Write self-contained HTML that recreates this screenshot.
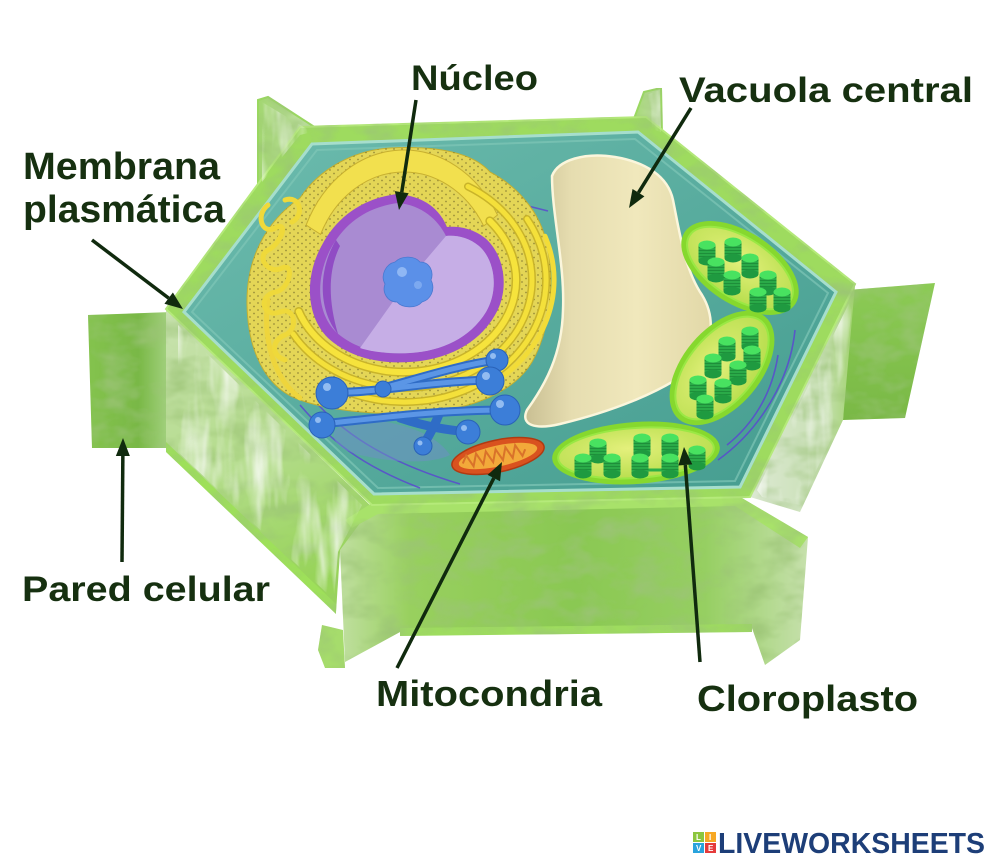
<!DOCTYPE html>
<html><head><meta charset="utf-8">
<style>
html,body{margin:0;padding:0;background:#fff;}
svg{display:block;}
text{font-family:"Liberation Sans",Arial,sans-serif;font-weight:bold;}
</style></head><body>
<svg width="1000" height="868" viewBox="0 0 1000 868" xmlns="http://www.w3.org/2000/svg">
<defs>
<linearGradient id="gTeal" x1="0" y1="0" x2="1" y2="1"><stop offset="0" stop-color="#6dbcae"/><stop offset="1" stop-color="#449c8f"/></linearGradient>
<linearGradient id="gLL" x1="0" y1="0" x2="0.3" y2="1"><stop offset="0" stop-color="#c9e2b0"/><stop offset="0.55" stop-color="#b4dc8c"/><stop offset="1" stop-color="#98d45a"/></linearGradient>
<linearGradient id="gFront" x1="0" y1="0" x2="1" y2="0"><stop offset="0" stop-color="#c0dfa0"/><stop offset="0.15" stop-color="#98d05e"/><stop offset="0.5" stop-color="#8ac852"/><stop offset="0.78" stop-color="#96cf62"/><stop offset="1" stop-color="#c6e0ac"/></linearGradient>
<linearGradient id="gFlL" x1="0" y1="0" x2="1" y2="0"><stop offset="0" stop-color="#84c34e"/><stop offset="0.6" stop-color="#79b846"/><stop offset="1" stop-color="#a8d486"/></linearGradient>
<linearGradient id="gFlR" x1="0" y1="0" x2="0" y2="1"><stop offset="0" stop-color="#8ccb55"/><stop offset="1" stop-color="#79b845"/></linearGradient>
<linearGradient id="gRF" x1="0" y1="0" x2="1" y2="0"><stop offset="0" stop-color="#dce8d2"/><stop offset="0.7" stop-color="#c8e0b4"/><stop offset="1" stop-color="#a0d26c"/></linearGradient>
<linearGradient id="gTop" x1="0" y1="0" x2="1" y2="0"><stop offset="0" stop-color="#a2d670"/><stop offset="1" stop-color="#c6e2ae"/></linearGradient>
<linearGradient id="gVac" x1="0" y1="0" x2="1" y2="0"><stop offset="0" stop-color="#c9bf93"/><stop offset="0.25" stop-color="#e6ddb0"/><stop offset="0.6" stop-color="#f0e8bc"/><stop offset="1" stop-color="#e2d8a8"/></linearGradient>
<radialGradient id="gChl" cx="0.45" cy="0.4" r="0.7"><stop offset="0" stop-color="#e4f07c"/><stop offset="1" stop-color="#b2dc48"/></radialGradient>
<pattern id="dots" width="8" height="7" patternUnits="userSpaceOnUse"><circle cx="2" cy="2" r="0.9" fill="#2a2410"/><circle cx="6" cy="5.5" r="0.9" fill="#2a2410"/></pattern>
<pattern id="stripes" width="4" height="3" patternUnits="userSpaceOnUse"><rect width="4" height="3" fill="#2aaa48"/><rect y="2" width="4" height="1" fill="#1e8e3a"/></pattern>
<g id="gr"><rect x="-8.5" y="0" width="17" height="16" fill="url(#stripes)"/><ellipse cy="16" rx="8.5" ry="4.5" fill="#1f9a40"/><ellipse rx="8.5" ry="4.5" fill="#48e260"/></g>
<filter id="tex" x="0" y="0" width="1" height="1">
 <feTurbulence type="fractalNoise" baseFrequency="0.03 0.05" numOctaves="3" seed="4" result="n"/>
 <feColorMatrix in="n" type="matrix" values="0 0 0 0 0.33  0 0 0 0 0.55  0 0 0 0 0.18  1.8 0 0 0 -0.75" result="m"/>
 <feComposite in="m" in2="SourceAlpha" operator="in" result="mc"/>
 <feMerge><feMergeNode in="SourceGraphic"/><feMergeNode in="mc"/></feMerge>
</filter>
<filter id="streak" x="0" y="0" width="1" height="1">
 <feTurbulence type="fractalNoise" baseFrequency="0.06 0.012" numOctaves="3" seed="7" result="n"/>
 <feColorMatrix in="n" type="matrix" values="0 0 0 0 0.95  0 0 0 0 0.97  0 0 0 0 0.93  2.0 0 0 0 -0.9" result="m"/>
 <feComposite in="m" in2="SourceAlpha" operator="in"/>
</filter>
</defs>
<rect width="1000" height="868" fill="#fff"/>

<g filter="url(#tex)">
<polygon points="258,100 268,97 316,128 300,128 258,186" fill="url(#gTop)" stroke="#9ad860" stroke-width="2"/>
<polygon points="632,124 644,92 661,88 662,134" fill="url(#gTop)" stroke="#9ad860" stroke-width="2"/>
<polygon points="88,315 172,312 168,448 92,448" fill="url(#gFlL)"/>
<polygon points="166,309 372,507 340,552 336,612 166,448" fill="url(#gLL)"/>
<polygon points="166,442 336,604 336,614 166,452" fill="#9ee05a"/>
<polygon points="322,625 343,630 345,668 325,668 318,650" fill="#a6dc6c"/>
<polygon points="848,290 935,283 905,418 843,420" fill="url(#gFlR)"/>
<polygon points="855,285 843,420 800,512 760,500 750,497" fill="url(#gRF)"/>
<polygon points="340,550 372,507 735,494 808,537 800,640 765,665 752,628 400,632 345,662" fill="url(#gFront)"/>
<polygon points="345,520 372,503 735,494 808,537 800,548 735,506 378,514 352,528" fill="#a8e26a"/>
<polygon points="400,628 752,624 752,632 400,636" fill="#9edc5e"/>
<polygon points="300,127 646,117 855,284 750,497 372,505 166,309" fill="#9edb5e" stroke="#b5ea7a" stroke-width="2"/>
</g>

<!-- white streaks -->
<g filter="url(#streak)" fill="#000">
<polygon points="178,325 362,505 338,552 334,600 178,452"/>
<polygon points="853,295 841,418 800,505 762,497 757,490"/>
<polygon points="262,102 312,132 300,135 262,182"/>
<polygon points="646,95 660,90 661,132 648,128"/>
</g>

<!-- teal cytoplasm -->
<polygon points="312,144 638,132 836,292 740,487 374,494 184,312" fill="url(#gTeal)" stroke="#a6decc" stroke-width="3"/>
<polygon points="317,150 635,139 828,293 735,481 378,488 192,312" fill="none" stroke="#7fc6b6" stroke-width="2" opacity="0.7"/>

<g fill="none" stroke="#5a4ad0" stroke-width="1.6" opacity="0.85">
<path d="M300,405 C330,440 360,465 420,488"/>
<path d="M312,398 C340,430 380,460 460,484"/>
<path d="M795,330 C790,380 760,430 718,460"/>
<path d="M778,355 C772,395 752,425 727,445"/>
<path d="M528,206 L548,211"/>
</g>

<!-- ER body -->
<path d="M300,198 C320,168 355,150 390,148 C430,146 470,150 490,172 C515,185 540,210 547,245 C555,285 550,330 532,362 C515,390 480,405 440,411 C400,416 340,414 300,400 C265,388 248,350 247,305 C246,260 265,222 300,198 Z" fill="#e4d656" stroke="#c4b030" stroke-width="1"/>
<path d="M300,198 C320,168 355,150 390,148 C430,146 470,150 490,172 C515,185 540,210 547,245 C555,285 550,330 532,362 C515,390 480,405 440,411 C400,416 340,414 300,400 C265,388 248,350 247,305 C246,260 265,222 300,198 Z" fill="url(#dots)" opacity="0.4"/>
<path d="M306.1,225.1 A108 130 0 0 1 497.5,215 L483.7,226 A92 108 0 0 0 320.6,234.4 Z" fill="#f2e04e" stroke="#c8b030" stroke-width="1"/>
<g fill="none" stroke-linecap="round">
<path d="M298.8,311.5 A112 92 0 1 0 489.8,220.9" stroke="#c9b42a" stroke-width="9"/>
<path d="M298.8,311.5 A112 92 0 1 0 489.8,220.9" stroke="#f6e33c" stroke-width="6"/>
<path d="M293.1,334 A128 108 0 1 0 468,186.5" stroke="#c9b42a" stroke-width="8"/>
<path d="M293.1,334 A128 108 0 1 0 468,186.5" stroke="#f4e03a" stroke-width="5"/>
<path d="M333,385.7 A142 122 0 0 0 527,219" stroke="#c9b42a" stroke-width="8"/>
<path d="M333,385.7 A142 122 0 0 0 527,219" stroke="#f4e03a" stroke-width="5"/>
<path d="M479,390.9 A150 128 0 0 0 545,236.2" stroke="#f2dc38" stroke-width="5"/>
<path d="M268,300 C262,340 275,380 300,398" stroke="#eed53c" stroke-width="5"/>
<path d="M268,205 C255,215 262,235 275,228 C290,220 280,245 268,250 C255,258 270,275 282,268 C295,262 290,290 275,292 C258,296 262,318 280,312 C296,306 298,330 285,335 C272,340 270,355 285,360" stroke="#efd93a" stroke-width="5"/>
<path d="M285,200 C300,195 305,215 292,222" stroke="#efd93a" stroke-width="5"/>
</g>

<!-- nucleus -->
<path d="M397,194 C365,198 338,215 322,245 C305,275 305,315 328,338 C350,358 380,364 410,362 C445,360 478,345 495,315 C510,290 505,255 485,238 C472,228 458,226 447,227 C440,210 425,196 397,194 Z" fill="#9b50c8"/>
<path d="M398,203 C368,207 345,222 330,250 C316,278 316,312 336,332 C356,350 383,355 410,353 C442,351 470,338 486,312 C499,290 495,260 479,246 C468,237 456,235 446,236 C438,220 422,205 398,203 Z" fill="#a98bd2"/>
<path d="M336,240 C318,270 318,310 338,334 C328,300 328,270 340,246 Z" fill="#8a3cc0" opacity="0.8"/>
<path d="M407,282 L446,236 C456,235 468,237 479,246 C495,260 499,290 486,312 C470,338 442,351 410,353 C390,354 372,352 360,348 Z" fill="#c6aee6"/>
<path d="M395,262 C402,255 415,256 420,262 C430,262 434,272 431,280 C436,290 430,300 422,302 C416,309 402,308 397,302 C387,302 382,292 385,284 C380,275 386,264 395,262 Z" fill="#5b90e8" stroke="#4a78d0" stroke-width="0.8"/>
<circle cx="402" cy="272" r="5" fill="#9cc0f6" opacity="0.8"/>
<circle cx="418" cy="285" r="4" fill="#8ab4f4" opacity="0.7"/>

<path d="M335,430 C350,415 380,420 400,425 C420,430 440,440 450,455 C430,465 390,462 360,455 C340,450 330,440 335,430 Z" fill="#6d8fc4" opacity="0.55"/>
<g fill="none" stroke-linecap="round">
<g stroke="#2f6cc6" stroke-width="9">
<path d="M332,392 C370,394 420,382 490,380"/>
<path d="M383,388 C420,378 460,365 497,360"/>
<path d="M322,424 C380,418 440,410 505,410"/>
<path d="M400,418 C430,428 450,430 468,432"/>
<path d="M440,412 C435,425 428,438 423,445"/>
</g>
<g stroke="#5b96e6" stroke-width="5">
<path d="M332,392 C370,394 420,382 490,380"/>
<path d="M383,388 C420,378 460,365 497,360"/>
<path d="M322,424 C380,418 440,410 505,410"/>
</g>
</g>
<g fill="#3c7ed8" stroke="#2a62b8" stroke-width="1">
<circle cx="332" cy="393" r="16"/><circle cx="322" cy="425" r="13"/><circle cx="383" cy="389" r="8"/>
<circle cx="497" cy="360" r="11"/><circle cx="490" cy="381" r="14"/><circle cx="505" cy="410" r="15"/>
<circle cx="468" cy="432" r="12"/><circle cx="423" cy="446" r="9"/>
</g>
<g fill="#a8ccf8" opacity="0.8">
<circle cx="327" cy="387" r="4"/><circle cx="318" cy="420" r="3"/><circle cx="493" cy="356" r="3"/><circle cx="486" cy="376" r="4"/><circle cx="500" cy="404" r="4"/><circle cx="464" cy="428" r="3"/><circle cx="420" cy="443" r="2.5"/>
</g>

<path d="M552,176 C558,160 585,152 615,157 C645,162 668,176 673,200 C680,235 685,270 702,295 C716,318 714,350 690,370 C660,393 610,412 560,424 C535,430 520,425 527,410 C545,385 562,355 563,310 C565,265 552,215 552,176 Z" fill="url(#gVac)" stroke="#fbf6dc" stroke-width="2.5"/>

<g transform="rotate(-12 498 456)">
<ellipse cx="498" cy="456" rx="47" ry="16" fill="#d9521f" stroke="#b03a12" stroke-width="1.5"/>
<ellipse cx="498" cy="456" rx="40" ry="10.5" fill="#f2a93a"/>
<path d="M462,456 l5,-7 l5,12 l5,-12 l5,12 l5,-12 l5,12 l5,-12 l5,12 l5,-12 l5,12 l5,-12 l5,12 l4,-6" fill="none" stroke="#d9722a" stroke-width="2"/>
</g>

<g transform="translate(740,268) rotate(33)">
<ellipse rx="66" ry="36" fill="#86d82e"/>
<ellipse rx="60" ry="30" fill="url(#gChl)" stroke="#9ae844" stroke-width="2"/>
</g>
<g transform="translate(722,368) rotate(-50)">
<ellipse rx="67" ry="39" fill="#86d82e"/>
<ellipse rx="61" ry="33" fill="url(#gChl)" stroke="#9ae844" stroke-width="2"/>
</g>
<g transform="translate(636,453) rotate(-4)">
<ellipse rx="84" ry="31" fill="#86d82e"/>
<ellipse rx="78" ry="25" fill="url(#gChl)" stroke="#9ae844" stroke-width="2"/>
</g>
<use href="#gr" x="733" y="242"/><use href="#gr" x="707" y="245"/><use href="#gr" x="750" y="258"/><use href="#gr" x="716" y="262"/>
<use href="#gr" x="732" y="275"/><use href="#gr" x="768" y="275"/><use href="#gr" x="758" y="292"/><use href="#gr" x="782" y="292"/>
<use href="#gr" x="750" y="331"/><use href="#gr" x="727" y="341"/><use href="#gr" x="752" y="350"/><use href="#gr" x="713" y="358"/>
<use href="#gr" x="738" y="365"/><use href="#gr" x="698" y="380"/><use href="#gr" x="723" y="383"/><use href="#gr" x="705" y="399"/>
<line x1="640" y1="470" x2="670" y2="470" stroke="#2ab048" stroke-width="3"/>
<use href="#gr" x="642" y="438"/><use href="#gr" x="670" y="438"/><use href="#gr" x="598" y="443"/><use href="#gr" x="697" y="450"/>
<use href="#gr" x="583" y="458"/><use href="#gr" x="612" y="458"/><use href="#gr" x="640" y="458"/><use href="#gr" x="670" y="458"/>

<g stroke="#102a0e" stroke-width="3.5" fill="none">
<line x1="416" y1="100" x2="401.75" y2="192.21"/>
<line x1="691" y1="108" x2="638.48" y2="192.71"/>
<line x1="92" y1="240" x2="168.66" y2="298.12"/>
<line x1="122" y1="562" x2="122.85" y2="456"/>
<line x1="397" y1="668" x2="493.83" y2="478.04"/>
<line x1="700" y1="662" x2="685.34" y2="464.95"/>
</g>
<g fill="#102a0e">
<polygon points="399,210 394.83,191.14 408.67,193.28"/>
<polygon points="629,208 632.53,189.02 644.43,196.40"/>
<polygon points="183,309 164.43,303.70 172.89,292.54"/>
<polygon points="123,438 129.85,456.06 115.85,455.94"/>
<polygon points="502,462 500.07,481.22 487.59,474.86"/>
<polygon points="684,447 692.32,464.43 678.36,465.47"/>
</g>

<g fill="#163010">
<text x="411" y="90" font-size="35" textLength="127" lengthAdjust="spacingAndGlyphs">Núcleo</text>
<text x="679" y="102" font-size="35" textLength="294" lengthAdjust="spacingAndGlyphs">Vacuola central</text>
<text x="23" y="179" font-size="38" textLength="197" lengthAdjust="spacingAndGlyphs">Membrana</text>
<text x="23" y="222" font-size="38" textLength="202" lengthAdjust="spacingAndGlyphs">plasmática</text>
<text x="22" y="601" font-size="35" textLength="248" lengthAdjust="spacingAndGlyphs">Pared celular</text>
<text x="376" y="706" font-size="36" textLength="226" lengthAdjust="spacingAndGlyphs">Mitocondria</text>
<text x="697" y="711" font-size="36" textLength="221" lengthAdjust="spacingAndGlyphs">Cloroplasto</text>
</g>

<rect x="693" y="832" width="11" height="10" fill="#8cc63e"/>
<rect x="705" y="832" width="11" height="10" fill="#f7a823"/>
<rect x="693" y="843" width="11" height="10" fill="#29a3dd"/>
<rect x="705" y="843" width="11" height="10" fill="#e53b3b"/>
<g fill="#fff" font-size="8">
<text x="696" y="840">L</text><text x="709" y="840">I</text><text x="696" y="851">V</text><text x="708" y="851">E</text>
</g>
<text x="718" y="853" font-size="29" fill="#1d3e78" textLength="267" lengthAdjust="spacingAndGlyphs">LIVEWORKSHEETS</text>
</svg>
</body></html>
